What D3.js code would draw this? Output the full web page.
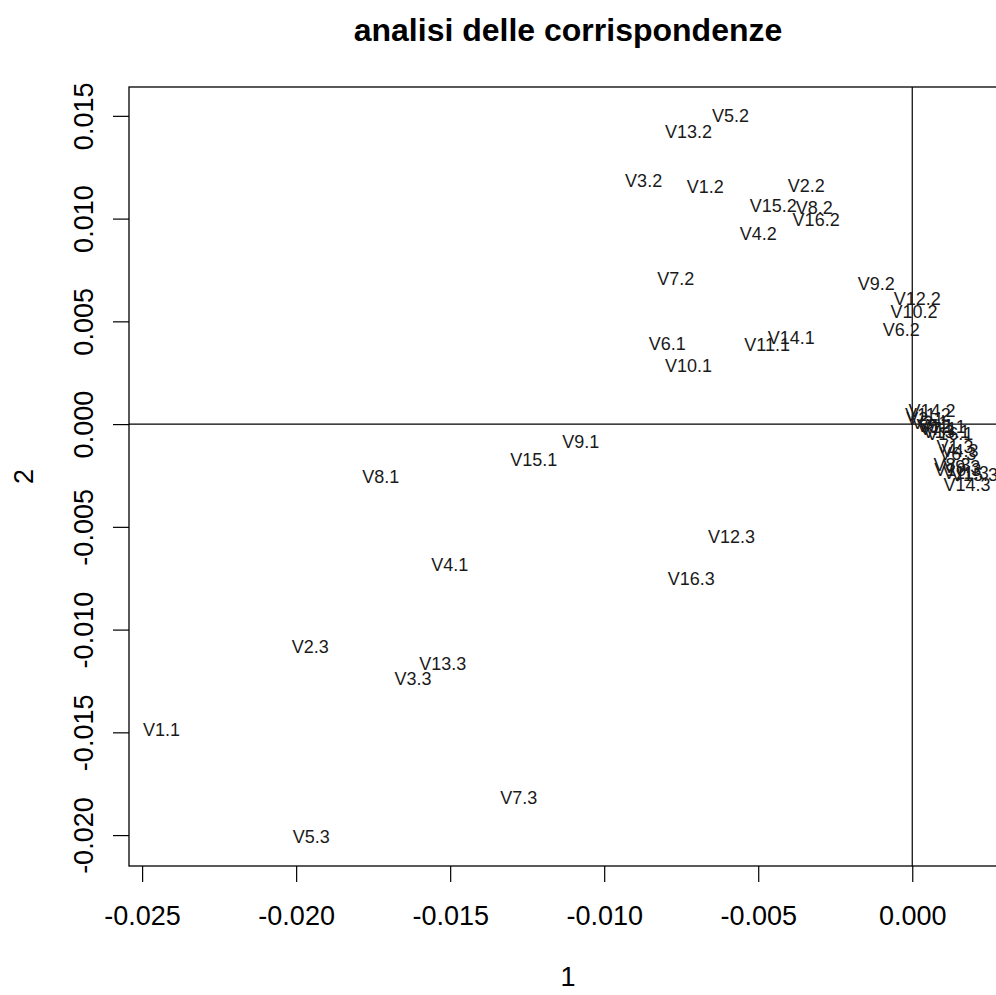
<!DOCTYPE html>
<html>
<head>
<meta charset="utf-8">
<script src="https://cdn.jsdelivr.net/npm/d3@7"></script>
<style>
  html, body { margin: 0; padding: 0; background: #fff; }
  svg { display: block; font-family: "Liberation Sans", Arial, Helvetica, sans-serif; }
</style>
</head>
<body>
<svg id="chart" width="996" height="995"></svg>
<script>
// Category labels (variable.level) and their coordinates on the first two dimensions
const labels = [
  "V5.2", "V13.2", "V3.2", "V1.2", "V2.2", "V15.2", "V8.2", "V16.2", "V4.2", "V7.2",
  "V9.2", "V12.2", "V10.2", "V6.2", "V6.1", "V10.1", "V11.1", "V14.1",
  "V9.1", "V15.1", "V8.1", "V4.1", "V12.3", "V16.3", "V2.3", "V13.3", "V3.3",
  "V1.1", "V7.3", "V5.3",
  "V14.2", "V11.2", "V2.1", "V3.1", "V5.1", "V7.1", "V12.1", "V13.1", "V16.1",
  "V1.3", "V4.3", "V6.3", "V8.3", "V9.3", "V10.3", "V11.3", "V15.3", "V14.3"
];
const dim1 = [
  -0.00590, -0.00726, -0.00872, -0.00672, -0.00344, -0.00451, -0.00318, -0.00312, -0.00500, -0.00768,
  -0.00117, 0.00016, 0.00006, -0.00036, -0.00795, -0.00726, -0.00471, -0.00393,
  -0.01076, -0.01229, -0.01725, -0.01501, -0.00587, -0.00717, -0.01954, -0.01524, -0.01621,
  -0.02437, -0.01277, -0.01951,
  0.00064, 0.00051, 0.00041, 0.00058, 0.00074, 0.00084, 0.00097, 0.00110, 0.00122,
  0.00139, 0.00155, 0.00148, 0.00129, 0.00161, 0.00148, 0.00174, 0.00202, 0.00178
];
const dim2 = [
  0.01500, 0.01422, 0.01184, 0.01155, 0.01160, 0.01063, 0.01053, 0.00995, 0.00927, 0.00704,
  0.00684, 0.00607, 0.00544, 0.00456, 0.00388, 0.00282, 0.00383, 0.00417,
  -0.00087, -0.00175, -0.00257, -0.00684, -0.00549, -0.00752, -0.01087, -0.01165, -0.01238,
  -0.01490, -0.01820, -0.02010,
  0.00063, 0.00044, 0.00024, 0.00005, -0.00010, -0.00024, -0.00015, -0.00039, -0.00049,
  -0.00112, -0.00131, -0.00146, -0.00199, -0.00209, -0.00223, -0.00238, -0.00248, -0.00296
];

const xTicks = [-0.025, -0.020, -0.015, -0.010, -0.005, 0.000];
const xTickLabels = ["-0.025", "-0.020", "-0.015", "-0.010", "-0.005", "0.000"];
const yTicks = [-0.020, -0.015, -0.010, -0.005, 0.000, 0.005, 0.010, 0.015];
const yTickLabels = ["-0.020", "-0.015", "-0.010", "-0.005", "0.000", "0.005", "0.010", "0.015"];

const title = "analisi delle corrispondenze";
const xTitle = "1";
const yTitle = "2";

// Plot region
const plotLeft = 129, plotRight = 1007, plotTop = 87, plotBottom = 866;

// Axis limits: data range padded by 4% on each side
function padded(vals) {
  const [lo, hi] = d3.extent(vals);
  const pad = (hi - lo) * 0.04;
  return [lo - pad, hi + pad];
}

const x = d3.scaleLinear().domain(padded(dim1)).range([plotLeft, plotRight]);
const y = d3.scaleLinear().domain(padded(dim2)).range([plotBottom, plotTop]);

const svg = d3.select("#chart");
const ink = "#000";
const axisFont = 27;

svg.append("defs").append("clipPath").attr("id", "plotclip")
  .append("rect").attr("x", plotLeft).attr("y", plotTop)
  .attr("width", plotRight - plotLeft).attr("height", plotBottom - plotTop);

// Reference lines through the origin
const plot = svg.append("g").attr("clip-path", "url(#plotclip)");
plot.append("line")
  .attr("x1", plotLeft).attr("x2", plotRight).attr("y1", y(0)).attr("y2", y(0))
  .attr("stroke", ink).attr("stroke-width", 1.2);
plot.append("line")
  .attr("x1", x(0)).attr("x2", x(0)).attr("y1", plotTop).attr("y2", plotBottom)
  .attr("stroke", ink).attr("stroke-width", 1.2);

// Category labels centred on their coordinates
const pts = labels.map((l, i) => ({ label: l, d1: dim1[i], d2: dim2[i] }));
plot.selectAll("text.pt").data(pts).join("text")
  .attr("class", "pt")
  .attr("x", d => x(d.d1))
  .attr("y", d => y(d.d2))
  .attr("text-anchor", "middle")
  .attr("dominant-baseline", "central")
  .attr("font-size", 18)
  .attr("fill", "#1a1a1a")
  .text(d => d.label);

// Axes
const xAxis = d3.axisBottom(x)
  .tickValues(xTicks)
  .tickFormat((d, i) => xTickLabels[i])
  .tickSize(16).tickSizeOuter(0).tickPadding(24);
const gx = svg.append("g").attr("transform", `translate(0,${plotBottom})`).call(xAxis);
gx.select(".domain").remove();
gx.selectAll(".tick line").attr("stroke", ink).attr("stroke-width", 1.2);
gx.selectAll(".tick text").attr("font-size", axisFont).attr("fill", ink)
  .attr("font-family", "Liberation Sans, Arial, sans-serif");

const yAxis = d3.axisLeft(y)
  .tickValues(yTicks)
  .tickFormat((d, i) => yTickLabels[i])
  .tickSize(16).tickSizeOuter(0);
const gy = svg.append("g").attr("transform", `translate(${plotLeft},0)`).call(yAxis);
gy.select(".domain").remove();
gy.selectAll(".tick line").attr("stroke", ink).attr("stroke-width", 1.2);
gy.selectAll(".tick text")
  .attr("font-size", axisFont).attr("fill", ink)
  .attr("font-family", "Liberation Sans, Arial, sans-serif")
  .attr("text-anchor", "middle")
  .attr("dy", null)
  .attr("x", 0).attr("y", 0)
  .attr("transform", "translate(-36,0) rotate(-90)");

// Frame
svg.append("rect")
  .attr("x", plotLeft).attr("y", plotTop)
  .attr("width", plotRight - plotLeft).attr("height", plotBottom - plotTop)
  .attr("fill", "none").attr("stroke", ink).attr("stroke-width", 1.3);

// Titles
const cx = (plotLeft + plotRight) / 2;
svg.append("text")
  .attr("x", cx).attr("y", 41)
  .attr("text-anchor", "middle")
  .attr("font-size", 32).attr("font-weight", "bold").attr("fill", ink)
  .text(title);
svg.append("text")
  .attr("x", cx).attr("y", 986)
  .attr("text-anchor", "middle")
  .attr("font-size", axisFont).attr("fill", ink)
  .text(xTitle);
svg.append("text")
  .attr("transform", `translate(33,${(plotTop + plotBottom) / 2}) rotate(-90)`)
  .attr("text-anchor", "middle")
  .attr("font-size", axisFont).attr("fill", ink)
  .text(yTitle);
</script>
</body>
</html>
